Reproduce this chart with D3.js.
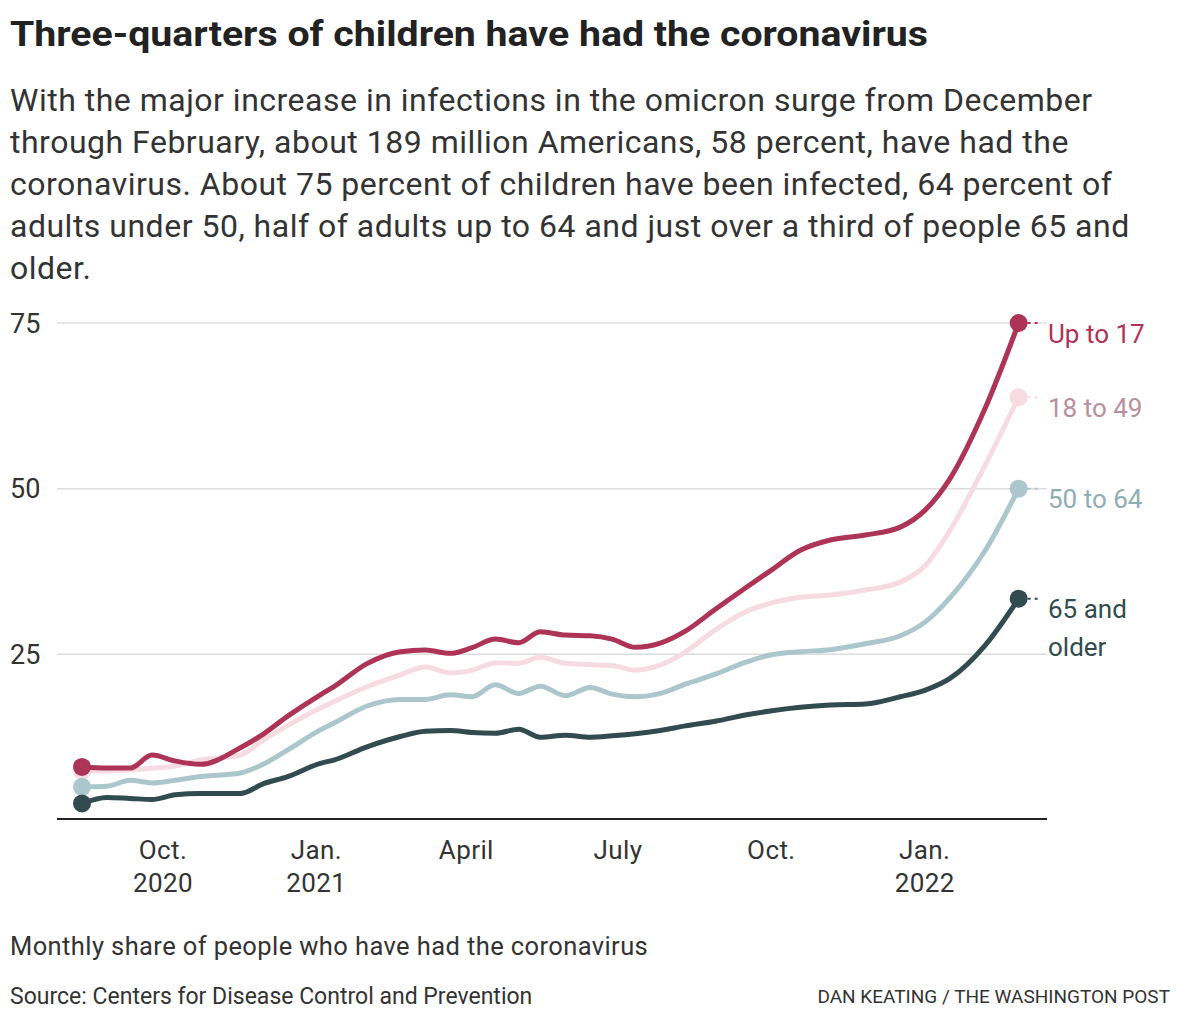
<!DOCTYPE html>
<html>
<head>
<meta charset="utf-8">
<script src="https://cdn.jsdelivr.net/npm/d3@7"></script>
<style>
  html, body { margin: 0; padding: 0; background: #fff; }
  svg { display: block; }
</style>
</head>
<body>
<svg id="chart" width="1180" height="1020"></svg>
<script>
// ---------------- DATA ----------------
const dates = [
  "2020-08-14","2020-08-29","2020-09-12","2020-09-25","2020-10-09","2020-10-24",
  "2020-11-17","2020-12-01","2020-12-15","2021-01-04","2021-01-12","2021-02-01",
  "2021-02-21","2021-03-08","2021-03-23","2021-04-05","2021-04-19","2021-05-03",
  "2021-05-16","2021-05-31","2021-06-15","2021-06-28","2021-07-12","2021-07-27",
  "2021-08-11","2021-08-29","2021-09-16","2021-10-01","2021-10-19","2021-11-06",
  "2021-11-27","2021-12-18","2022-01-02","2022-01-17","2022-02-07","2022-02-27"
];
const upTo17 = [
  8.0, 7.85, 7.85, 9.8, 8.9, 8.4,
  10.9, 13.0, 15.6, 18.9, 20.1, 23.6,
  25.4, 25.65, 25.15, 26.0, 27.3, 26.75,
  28.4, 27.9, 27.8, 27.3, 26.06, 26.7,
  28.5, 31.8, 35.0, 37.6, 40.7, 42.25,
  43.0, 44.2, 46.8, 51.6, 62.2, 75.0
];
const age18to49 = [
  7.4, 7.4, 7.55, 7.8, 8.15, 9.05,
  9.8, 12.1, 14.2, 16.9, 17.85, 20.1,
  21.9, 23.1, 22.2, 22.6, 23.7, 23.65,
  24.55, 23.65, 23.45, 23.3, 22.6, 23.4,
  25.35, 28.7, 31.4, 32.7, 33.6, 33.95,
  34.7, 35.9, 38.4, 43.8, 53.6, 63.8
];
const age50to64 = [
  5.0, 5.1, 6.0, 5.6, 6.0, 6.55,
  7.1, 8.45, 10.5, 13.6, 14.6, 17.2,
  18.2, 18.2, 18.9, 18.6, 20.4, 19.1,
  20.2, 18.75, 20.0, 19.0, 18.6, 19.1,
  20.5, 22.0, 23.8, 24.9, 25.4, 25.7,
  26.6, 27.8, 29.9, 33.6, 40.7, 50.0
];
const age65plus = [
  2.5, 3.4, 3.25, 3.1, 3.8, 4.0,
  4.0, 5.5, 6.5, 8.55, 9.05, 11.05,
  12.6, 13.4, 13.5, 13.2, 13.1, 13.7,
  12.5, 12.8, 12.5, 12.7, 13.0, 13.5,
  14.2, 14.9, 15.85, 16.45, 17.0, 17.35,
  17.5, 18.6, 19.6, 21.4, 26.4, 33.4
];
const seriesNames = ["Up to 17", "18 to 49", "50 to 64", "65 and older"];
const yTicks = [25, 50, 75];
const xTickDates = ["2020-10-01","2021-01-01","2021-04-01","2021-07-01","2021-10-01","2022-01-01"];
const xTickLabels = [["Oct.","2020"],["Jan.","2021"],["April"],["July"],["Oct."],["Jan.","2022"]];

const titleText = "Three-quarters of children have had the coronavirus";
const subtitleLines = [
  "With the major increase in infections in the omicron surge from December",
  "through February, about 189 million Americans, 58 percent, have had the",
  "coronavirus. About 75 percent of children have been infected, 64 percent of",
  "adults under 50, half of adults up to 64 and just over a third of people 65 and",
  "older."
];
const noteText = "Monthly share of people who have had the coronavirus";
const sourceText = "Source: Centers for Disease Control and Prevention";
const creditText = "DAN KEATING / THE WASHINGTON POST";

// ---------------- STYLE ----------------
const colors = {
  "Up to 17":     { line: "#ad3457", label: "#ad3457" },
  "18 to 49":     { line: "#f7dbe3", label: "#b98f9c" },
  "50 to 64":     { line: "#abc7cb", label: "#8fadb2" },
  "65 and older": { line: "#314b4f", label: "#314b4f" }
};
const bodyFont = "Roboto, 'Libre Franklin', 'Noto Sans', sans-serif";

const parse = d3.utcParse("%Y-%m-%d");
const dateObjs = dates.map(parse);
const valuesBySeries = {
  "Up to 17": upTo17,
  "18 to 49": age18to49,
  "50 to 64": age50to64,
  "65 and older": age65plus
};
const series = seriesNames.map(name => ({
  name,
  points: dateObjs.map((d, i) => ({ date: d, value: valuesBySeries[name][i] }))
}));

const svg = d3.select("#chart");
svg.append("rect").attr("width", 1180).attr("height", 1020).attr("fill", "#fff");

// Title
svg.append("text")
  .attr("x", 10).attr("y", 46)
  .attr("font-family", bodyFont)
  .attr("font-weight", 700)
  .attr("font-size", 35)
  .attr("textLength", 918)
  .attr("lengthAdjust", "spacingAndGlyphs")
  .attr("fill", "#222")
  .text(titleText);

// Subtitle
const sub = svg.append("text")
  .attr("font-family", bodyFont)
  .attr("font-size", 32)
  .attr("letter-spacing", 0.5)
  .attr("fill", "#333");
subtitleLines.forEach((line, i) => {
  sub.append("tspan").attr("x", 10).attr("y", 111 + i * 42).text(line);
});

// Scales
const x = d3.scaleTime()
  .domain([parse("2020-07-30"), parse("2022-03-16")])
  .range([57, 1047]);
const y = d3.scaleLinear().domain([0, 75]).range([820, 323]);

// Grid
const grid = svg.append("g");
grid.selectAll("line").data(yTicks).join("line")
  .attr("x1", 57).attr("x2", 1047)
  .attr("y1", d => y(d)).attr("y2", d => y(d))
  .attr("stroke", "#dcdcdc").attr("stroke-width", 1.5);
grid.selectAll("text").data(yTicks).join("text")
  .attr("x", 10).attr("y", d => y(d) + 9.5)
  .attr("font-family", bodyFont).attr("font-size", 27)
  .attr("fill", "#333")
  .text(d => d);

// X axis baseline
svg.append("line")
  .attr("x1", 57).attr("x2", 1047)
  .attr("y1", 819).attr("y2", 819)
  .attr("stroke", "#222").attr("stroke-width", 2);

// X tick labels
const xt = svg.append("g");
xTickDates.forEach((ds, i) => {
  const t = xt.append("text")
    .attr("text-anchor", "middle")
    .attr("font-family", bodyFont).attr("font-size", 26)
    .attr("letter-spacing", 0.4)
    .attr("fill", "#333");
  xTickLabels[i].forEach((lab, j) => {
    t.append("tspan").attr("x", x(parse(ds)) + 1).attr("y", 859 + j * 33).text(lab);
  });
});

// Lines
const line = d3.line()
  .x(d => x(d.date))
  .y(d => y(d.value))
  .curve(d3.curveMonotoneX);

const drawOrder = ["18 to 49", "50 to 64", "65 and older", "Up to 17"];
const gLines = svg.append("g");
drawOrder.forEach(name => {
  const s = series.find(s => s.name === name);
  const c = colors[name].line;
  const g = gLines.append("g");
  g.append("path")
    .datum(s.points)
    .attr("d", line)
    .attr("fill", "none")
    .attr("stroke", c)
    .attr("stroke-width", 5)
    .attr("stroke-linejoin", "round")
    .attr("stroke-linecap", "round");
  const first = s.points[0], last = s.points[s.points.length - 1];
  g.append("circle").attr("cx", x(first.date)).attr("cy", y(first.value)).attr("r", 9).attr("fill", c);
  g.append("circle").attr("cx", x(last.date)).attr("cy", y(last.value)).attr("r", 9).attr("fill", c);
  g.append("line")
    .attr("x1", x(last.date) + 9).attr("x2", x(last.date) + 23)
    .attr("y1", y(last.value)).attr("y2", y(last.value))
    .attr("stroke", c).attr("stroke-width", 2)
    .attr("stroke-dasharray", "3,4");
});

// Series labels
series.forEach(s => {
  const last = s.points[s.points.length - 1];
  const t = svg.append("text")
    .attr("font-family", bodyFont).attr("font-size", 26)
    .attr("fill", colors[s.name].label);
  const words = s.name === "65 and older" ? ["65 and", "older"] : [s.name];
  words.forEach((w, j) => {
    t.append("tspan").attr("x", 1048).attr("y", y(last.value) + 19.5 + j * 38).text(w);
  });
});

// Footer
svg.append("text")
  .attr("x", 10).attr("y", 955)
  .attr("font-family", bodyFont).attr("font-size", 25.5)
  .attr("letter-spacing", 0.4)
  .attr("fill", "#333")
  .text(noteText);
svg.append("text")
  .attr("x", 10).attr("y", 1004)
  .attr("font-family", bodyFont).attr("font-size", 23)
  .attr("fill", "#333")
  .text(sourceText);
svg.append("text")
  .attr("x", 1170).attr("y", 1003)
  .attr("text-anchor", "end")
  .attr("font-family", bodyFont).attr("font-size", 19)
  .attr("fill", "#333")
  .text(creditText);
</script>
</body>
</html>
